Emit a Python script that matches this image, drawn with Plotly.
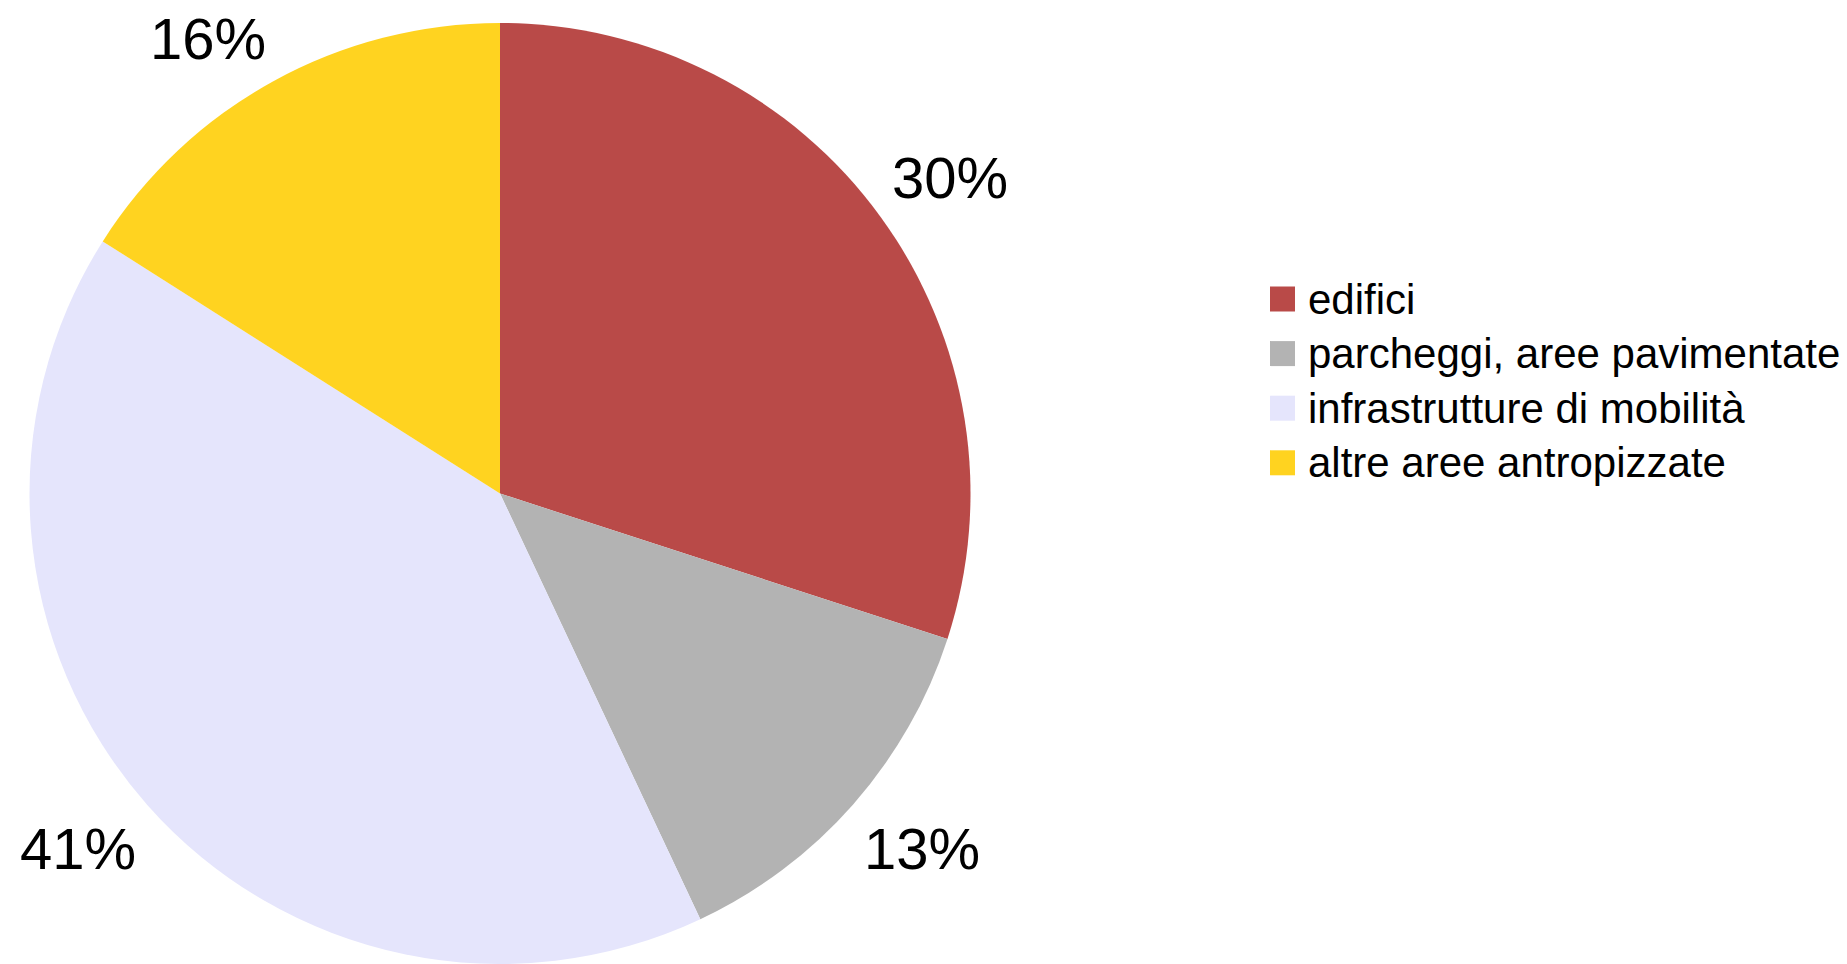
import math
import plotly.graph_objects as go

# Land-consumption breakdown by category (percent)
categories = ["edifici", "parcheggi, aree pavimentate", "infrastrutture di mobilità", "altre aree antropizzate"]
shares = [30, 13, 41, 16]
colors = ["#B94A48", "#B3B3B3", "#E5E5FC", "#FFD320"]

W, H = 1847, 964
FONT = "Liberation Sans, Arial, sans-serif"

# Pie placement (pixels); the bottom edge touches the page edge
cx, cy, r = 500, 495, 472
dom_x = [(cx - r) / W, (cx + r) / W]
dom_y = [max(0.0, (H - cy - r) / H), (H - cy + r) / H]

fig = go.Figure(go.Pie(
    labels=categories,
    values=shares,
    marker=dict(colors=colors, line=dict(width=0)),
    sort=False,
    direction="clockwise",
    rotation=0,
    textinfo="none",
    hoverinfo="label+percent",
    showlegend=False,
    domain=dict(x=dom_x, y=dom_y),
))

# Percentage labels just outside each slice, at its mid-angle
annotations = []
total = sum(shares)
cum = 0.0
label_r = r + 10
for v in shares:
    mid = (cum + v / 2) / total * 2 * math.pi
    cum += v
    sx, sy = math.sin(mid), math.cos(mid)
    px = cx + label_r * sx
    py = cy - label_r * sy
    annotations.append(dict(
        x=px / W, y=1 - py / H, xref="paper", yref="paper",
        text=f"{round(v / total * 100)}%", showarrow=False,
        xanchor="left" if sx >= 0 else "right",
        yanchor="bottom" if sy >= 0 else "top",
        font=dict(family=FONT, size=58, color="#000000"),
    ))

# Legend: coloured squares with category names
shapes = []
lx, ly0, step, sq = 1270, 299, 54.6, 25
for i, (name, col) in enumerate(zip(categories, colors)):
    yc = ly0 + i * step
    shapes.append(dict(
        type="rect", xref="paper", yref="paper",
        x0=lx / W, x1=(lx + sq) / W,
        y0=1 - (yc + sq / 2) / H, y1=1 - (yc - sq / 2) / H,
        fillcolor=col, line=dict(width=0),
    ))
    annotations.append(dict(
        x=(lx + 36) / W, y=1 - yc / H, xref="paper", yref="paper",
        text=name, showarrow=False, xanchor="left", yanchor="middle",
        font=dict(family=FONT, size=42, color="#000000"),
    ))

fig.update_layout(
    width=W, height=H,
    margin=dict(l=0, r=0, t=0, b=0),
    paper_bgcolor="#FFFFFF",
    plot_bgcolor="#FFFFFF",
    annotations=annotations,
    shapes=shapes,
)

fig.write_html("out.html")
